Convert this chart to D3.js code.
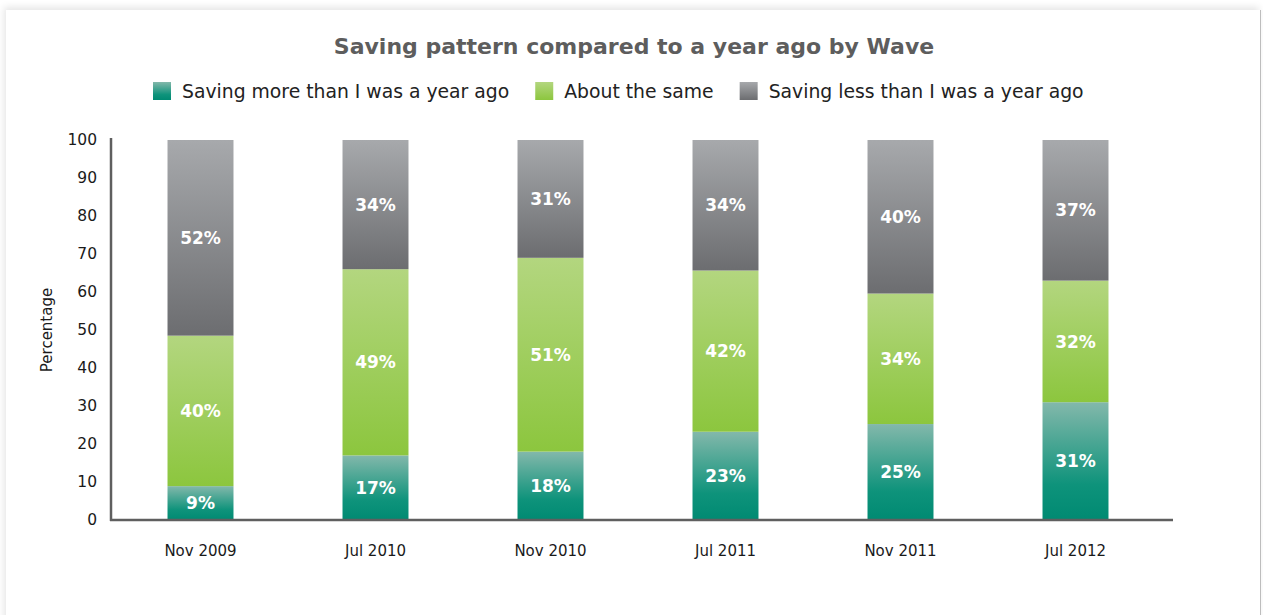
<!DOCTYPE html>
<html>
<head>
<meta charset="utf-8">
<title>Saving pattern compared to a year ago by Wave</title>
<script src="https://cdn.jsdelivr.net/npm/d3@7"></script>
<style>
  html, body { margin: 0; padding: 0; background: #ffffff; width: 1263px; height: 615px; overflow: hidden; }
  .card {
    position: absolute; left: 6px; top: 10px; width: 1254px; height: 640px;
    background: #ffffff;
    border-right: 1px solid #bdbdbd;
    box-shadow: -2px -3px 7px rgba(0,0,0,0.10);
  }
  svg { position: absolute; left: 0; top: 0; }
  text { font-family: "DejaVu Sans", Verdana, sans-serif; }
</style>
</head>
<body>
<div class="card"></div>
<svg id="chart" width="1263" height="615"></svg>
<script>
// Survey waves
const waves = ["Nov 2009", "Jul 2010", "Nov 2010", "Jul 2011", "Nov 2011", "Jul 2012"];

// Share of respondents per answer, in percent
const savingMore = [9, 17, 18, 23, 25, 31];
const aboutSame  = [40, 49, 51, 42, 34, 32];
const savingLess = [52, 34, 31, 34, 40, 37];

const seriesNames = [
  "Saving more than I was a year ago",
  "About the same",
  "Saving less than I was a year ago"
];
const seriesKeys = ["more", "same", "less"];

const yTicks = [0, 10, 20, 30, 40, 50, 60, 70, 80, 90, 100];

// Gradient stops (top colour, bottom colour) for each answer
const gradients = {
  more: [["0%", "#83b8ab"], ["70%", "#0e937b"], ["100%", "#008a72"]],
  same: [["0%", "#b3d67f"], ["100%", "#8cc63e"]],
  less: [["0%", "#a7a9ac"], ["100%", "#6c6d70"]]
};

const rows = waves.map((w, i) => ({
  wave: w, more: savingMore[i], same: aboutSame[i], less: savingLess[i]
}));

const svg = d3.select("#chart");

const margin = { left: 111, right: 1173, top: 140, bottom: 520 };

// 100% stacked layout
const stacked = d3.stack()
  .keys(seriesKeys)
  .offset(d3.stackOffsetExpand)(rows);

const x = d3.scaleBand()
  .domain(waves)
  .range([113, 1163])
  .paddingInner(0.623)
  .paddingOuter(0.3115);

const y = d3.scaleLinear()
  .domain([0, 100])
  .range([margin.bottom, margin.top]);

// Gradient definitions
const defs = svg.append("defs");
seriesKeys.forEach(k => {
  const g = defs.append("linearGradient")
    .attr("id", "grad-" + k)
    .attr("x1", 0).attr("y1", 0).attr("x2", 0).attr("y2", 1);
  gradients[k].forEach(([off, col]) => {
    g.append("stop").attr("offset", off).attr("stop-color", col);
  });
});

// Title
svg.append("text")
  .attr("x", 634)
  .attr("y", 54)
  .attr("text-anchor", "middle")
  .attr("font-size", 22)
  .attr("font-weight", "bold")
  .attr("fill", "#5d5d5d")
  .text("Saving pattern compared to a year ago by Wave");

// Legend
const legend = svg.append("g").attr("class", "legend");
let lx = 153;
seriesKeys.forEach((k, i) => {
  const item = legend.append("g");
  item.append("rect")
    .attr("x", lx).attr("y", 82)
    .attr("width", 18).attr("height", 18)
    .attr("fill", "url(#grad-" + k + ")");
  const t = item.append("text")
    .attr("x", lx + 29)
    .attr("y", 98)
    .attr("font-size", 18.8)
    .attr("fill", "#222222")
    .text(seriesNames[i]);
  lx = lx + 29 + t.node().getComputedTextLength() + 26;
});

// Bars
const layers = svg.append("g").attr("class", "bars")
  .selectAll("g")
  .data(stacked)
  .join("g")
  .attr("fill", d => "url(#grad-" + d.key + ")");

layers.selectAll("rect")
  .data(d => d)
  .join("rect")
  .attr("x", d => x(d.data.wave))
  .attr("width", x.bandwidth())
  .attr("y", d => y(d[1] * 100))
  .attr("height", d => y(d[0] * 100) - y(d[1] * 100));

// Value labels
const labels = svg.append("g").attr("class", "values");
stacked.forEach(layer => {
  layer.forEach(d => {
    labels.append("text")
      .attr("x", x(d.data.wave) + x.bandwidth() / 2)
      .attr("y", y((d[0] + d[1]) / 2 * 100))
      .attr("dy", "0.36em")
      .attr("text-anchor", "middle")
      .attr("font-size", 17)
      .attr("font-weight", "bold")
      .attr("fill", "#ffffff")
      .text(d.data[layer.key] + "%");
  });
});

// Y axis
const yAxis = svg.append("g")
  .attr("transform", `translate(${margin.left},0)`)
  .call(d3.axisLeft(y).tickValues(yTicks).tickSize(0).tickPadding(14));
yAxis.select(".domain").remove();
yAxis.selectAll("text")
  .attr("font-size", 15.5)
  .attr("font-family", "DejaVu Sans, Verdana, sans-serif")
  .attr("fill", "#1a1a1a");

// X axis
const xAxis = svg.append("g")
  .attr("transform", `translate(0,${margin.bottom})`)
  .call(d3.axisBottom(x).tickSize(0).tickPadding(25));
xAxis.select(".domain").remove();
xAxis.selectAll("text")
  .attr("font-size", 15)
  .attr("font-family", "DejaVu Sans, Verdana, sans-serif")
  .attr("fill", "#1a1a1a");

// Axis lines
svg.append("line")
  .attr("x1", margin.left).attr("x2", margin.left)
  .attr("y1", margin.top - 2).attr("y2", margin.bottom + 1)
  .attr("stroke", "#5f5f5f").attr("stroke-width", 2.5);
svg.append("line")
  .attr("x1", margin.left - 1).attr("x2", margin.right)
  .attr("y1", margin.bottom).attr("y2", margin.bottom)
  .attr("stroke", "#5f5f5f").attr("stroke-width", 2.5);

// Y axis title
svg.append("text")
  .attr("transform", "translate(52,330) rotate(-90)")
  .attr("text-anchor", "middle")
  .attr("font-size", 15)
  .attr("fill", "#1a1a1a")
  .text("Percentage");
</script>
</body>
</html>
